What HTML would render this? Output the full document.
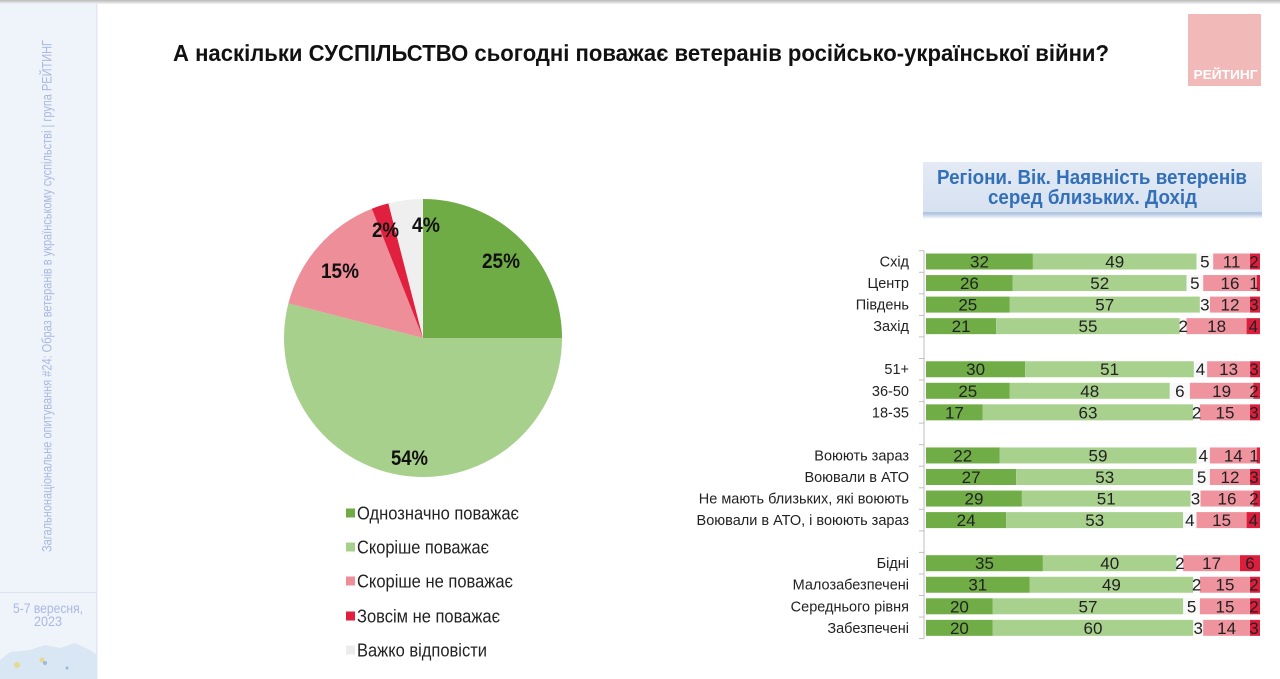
<!DOCTYPE html>
<html><head><meta charset="utf-8"><style>
html,body{margin:0;padding:0;background:#fff;}
svg{display:block;}
</style></head><body>
<svg width="1280" height="679" viewBox="0 0 1280 679" xmlns="http://www.w3.org/2000/svg" font-family="'Liberation Sans', Arial, sans-serif">
<defs>
<linearGradient id="topg" x1="0" y1="0" x2="0" y2="1"><stop offset="0" stop-color="#b9b9b9"/><stop offset="1" stop-color="#f4f4f4"/></linearGradient>
<linearGradient id="hdr" x1="0" y1="0" x2="0" y2="1"><stop offset="0" stop-color="#e3eaf5"/><stop offset="1" stop-color="#d6e1f0"/></linearGradient>
<linearGradient id="shd" x1="0" y1="0" x2="0" y2="1"><stop offset="0" stop-color="#a9bedc"/><stop offset="1" stop-color="#ffffff"/></linearGradient>
</defs>
<rect width="1280" height="679" fill="#fff"/>
<!-- sidebar -->
<rect x="0" y="0" width="97" height="679" fill="#eff3fa"/>
<rect x="96" y="0" width="1.5" height="679" fill="#e1e7f2"/>
<rect x="0" y="592" width="97" height="1" fill="#dde3ee"/>
<text transform="translate(51.5,296) rotate(-90)" text-anchor="middle" font-size="14" fill="#a9b9e0" textLength="512" lengthAdjust="spacingAndGlyphs">Загальнонаціональне опитування #24: Образ ветеранів в українському суспільстві | група РЕЙТИНГ</text>
<text x="48" y="613" text-anchor="middle" font-size="14" fill="#a9b9e0" textLength="70" lengthAdjust="spacingAndGlyphs">5-7 вересня,</text>
<text x="48" y="626" text-anchor="middle" font-size="14" fill="#a9b9e0" textLength="28" lengthAdjust="spacingAndGlyphs">2023</text>
<path d="M0,679 L0,660 L10,652 L30,650 L45,645 L60,648 L75,643 L90,650 L97,655 L97,679 Z" fill="#d9e6f3"/>
<circle cx="17" cy="665" r="3" fill="#e6d98f"/>
<circle cx="42" cy="660" r="2.5" fill="#e6d98f"/>
<circle cx="45" cy="663" r="2" fill="#9bb8dc"/>
<circle cx="67" cy="668" r="1.5" fill="#9bb8dc"/>
<!-- top strip -->
<rect x="0" y="0" width="1280" height="4" fill="url(#topg)"/>
<!-- title -->
<text x="173" y="61" font-size="23" font-weight="bold" fill="#111" textLength="936" lengthAdjust="spacingAndGlyphs">А наскільки СУСПІЛЬСТВО сьогодні поважає ветеранів російсько-української війни?</text>
<!-- logo -->
<rect x="1188" y="14" width="73" height="72" fill="#f2b9b9"/>
<text x="1225.5" y="79" text-anchor="middle" font-size="13" font-weight="bold" fill="#fff" textLength="64" lengthAdjust="spacingAndGlyphs">РЕЙТИНГ</text>
<!-- pie -->
<path d="M423,338 L423,199 A139,139 0 0 1 562,338 Z" fill="#6fac46"/>
<path d="M423,338 L562,338 A139,139 0 1 1 288.37,303.43 Z" fill="#a8d08d"/>
<path d="M423,338 L288.37,303.43 A139,139 0 0 1 371.83,208.76 Z" fill="#ee8e99"/>
<path d="M423,338 L371.83,208.76 A139,139 0 0 1 388.43,203.37 Z" fill="#e1203f"/>
<path d="M423,338 L388.43,203.37 A139,139 0 0 1 423,199 Z" fill="#efefef"/>
<g font-size="21" font-weight="bold" fill="#111" text-anchor="middle">
<text x="501" y="268" textLength="38" lengthAdjust="spacingAndGlyphs">25%</text>
<text x="409.5" y="465" textLength="37" lengthAdjust="spacingAndGlyphs">54%</text>
<text x="340" y="278" textLength="38" lengthAdjust="spacingAndGlyphs">15%</text>
<text x="385.5" y="237" textLength="27" lengthAdjust="spacingAndGlyphs">2%</text>
<text x="426" y="232" textLength="28" lengthAdjust="spacingAndGlyphs">4%</text>
</g>
<!-- legend -->
<rect x="346" y="508.5" width="9" height="9" fill="#6fac46"/>
<rect x="346" y="542.5" width="9" height="9" fill="#a8d08d"/>
<rect x="346" y="576.5" width="9" height="9" fill="#ee8e99"/>
<rect x="346" y="611.5" width="9" height="9" fill="#e1203f"/>
<rect x="346" y="645.5" width="9" height="9" fill="#ececec"/>
<g font-size="18" fill="#222">
<text x="357" y="519.5" textLength="162" lengthAdjust="spacingAndGlyphs">Однозначно поважає</text>
<text x="357" y="553.5" textLength="132" lengthAdjust="spacingAndGlyphs">Скоріше поважає</text>
<text x="357" y="587.5" textLength="156" lengthAdjust="spacingAndGlyphs">Скоріше не поважає</text>
<text x="357" y="622.5" textLength="143" lengthAdjust="spacingAndGlyphs">Зовсім не поважає</text>
<text x="357" y="656.5" textLength="130" lengthAdjust="spacingAndGlyphs">Важко відповісти</text>
</g>
<!-- header box -->
<rect x="923" y="213" width="339" height="6" fill="url(#shd)"/>
<rect x="923" y="162" width="339" height="52" fill="url(#hdr)"/>
<rect x="923" y="212" width="339" height="2" fill="#b3c5df"/>
<text x="1092" y="184" text-anchor="middle" font-size="20" font-weight="bold" fill="#3470b8" textLength="310" lengthAdjust="spacingAndGlyphs">Регіони. Вік. Наявність ветеренів</text>
<text x="1092.5" y="204" text-anchor="middle" font-size="20" font-weight="bold" fill="#3470b8" textLength="209" lengthAdjust="spacingAndGlyphs">серед близьких. Дохід</text>
<!-- axis -->
<g stroke="#bfbfbf" stroke-width="1">
<line x1="924" y1="250.7" x2="924" y2="638.6"/>
<line x1="919" y1="250.7" x2="924" y2="250.7"/><line x1="919" y1="272.3" x2="924" y2="272.3"/><line x1="919" y1="293.8" x2="924" y2="293.8"/><line x1="919" y1="315.4" x2="924" y2="315.4"/><line x1="919" y1="336.9" x2="924" y2="336.9"/><line x1="919" y1="358.5" x2="924" y2="358.5"/><line x1="919" y1="380.0" x2="924" y2="380.0"/><line x1="919" y1="401.6" x2="924" y2="401.6"/><line x1="919" y1="423.1" x2="924" y2="423.1"/><line x1="919" y1="444.7" x2="924" y2="444.7"/><line x1="919" y1="466.2" x2="924" y2="466.2"/><line x1="919" y1="487.8" x2="924" y2="487.8"/><line x1="919" y1="509.3" x2="924" y2="509.3"/><line x1="919" y1="530.9" x2="924" y2="530.9"/><line x1="919" y1="552.4" x2="924" y2="552.4"/><line x1="919" y1="574.0" x2="924" y2="574.0"/><line x1="919" y1="595.5" x2="924" y2="595.5"/><line x1="919" y1="617.1" x2="924" y2="617.1"/><line x1="919" y1="638.6" x2="924" y2="638.6"/>
</g>
<!-- row labels -->
<g font-size="14.5" fill="#222" text-anchor="end">
<text x="909" y="266.5">Схід</text>
<text x="909" y="288">Центр</text>
<text x="909" y="309.6">Південь</text>
<text x="909" y="331.1">Захід</text>
<text x="909" y="374.2">51+</text>
<text x="909" y="395.8">36-50</text>
<text x="909" y="417.3">18-35</text>
<text x="909" y="460.4">Воюють зараз</text>
<text x="909" y="482">Воювали в АТО</text>
<text x="909" y="503.5">Не мають близьких, які воюють</text>
<text x="909" y="525.1">Воювали в АТО, і воюють зараз</text>
<text x="909" y="568.2">Бідні</text>
<text x="909" y="589.7">Малозабезпечені</text>
<text x="909" y="611.3">Середнього рівня</text>
<text x="909" y="632.8">Забезпечені</text>
</g>
<!-- bars -->
<g>
<!-- Схід y=253.5 -->
<rect x="926" y="253.5" width="106.9" height="16" fill="#70ad47"/><rect x="1032.9" y="253.5" width="163.6" height="16" fill="#a9d18e"/><rect x="1196.5" y="253.5" width="16.7" height="16" fill="#f8f8f8"/><rect x="1213.2" y="253.5" width="36.8" height="16" fill="#ef949f"/><rect x="1250" y="253.5" width="10" height="16" fill="#dc1e3c"/>
<!-- Центр y=275.05 -->
<rect x="926" y="275.05" width="86.8" height="16" fill="#70ad47"/><rect x="1012.8" y="275.05" width="173.7" height="16" fill="#a9d18e"/><rect x="1186.5" y="275.05" width="16.7" height="16" fill="#f8f8f8"/><rect x="1203.2" y="275.05" width="53.5" height="16" fill="#ef949f"/><rect x="1256.7" y="275.05" width="3.3" height="16" fill="#dc1e3c"/>
<!-- Південь y=296.6 -->
<rect x="926" y="296.6" width="83.5" height="16" fill="#70ad47"/><rect x="1009.5" y="296.6" width="190.4" height="16" fill="#a9d18e"/><rect x="1199.9" y="296.6" width="10" height="16" fill="#f8f8f8"/><rect x="1209.9" y="296.6" width="40.1" height="16" fill="#ef949f"/><rect x="1250" y="296.6" width="10" height="16" fill="#dc1e3c"/>
<!-- Захід y=318.15 -->
<rect x="926" y="318.15" width="70.1" height="16" fill="#70ad47"/><rect x="996.1" y="318.15" width="183.7" height="16" fill="#a9d18e"/><rect x="1179.8" y="318.15" width="6.7" height="16" fill="#f8f8f8"/><rect x="1186.5" y="318.15" width="60.1" height="16" fill="#ef949f"/><rect x="1246.6" y="318.15" width="13.4" height="16" fill="#dc1e3c"/>
<!-- 51+ y=361.25 -->
<rect x="926" y="361.25" width="99.2" height="16" fill="#70ad47"/><rect x="1025.2" y="361.25" width="168.7" height="16" fill="#a9d18e"/><rect x="1193.9" y="361.25" width="13.2" height="16" fill="#f8f8f8"/><rect x="1207.1" y="361.25" width="43" height="16" fill="#ef949f"/><rect x="1250.1" y="361.25" width="9.9" height="16" fill="#dc1e3c"/>
<!-- 36-50 y=382.8 -->
<rect x="926" y="382.8" width="83.5" height="16" fill="#70ad47"/><rect x="1009.5" y="382.8" width="160.3" height="16" fill="#a9d18e"/><rect x="1169.8" y="382.8" width="20.1" height="16" fill="#f8f8f8"/><rect x="1189.9" y="382.8" width="63.4" height="16" fill="#ef949f"/><rect x="1253.3" y="382.8" width="6.7" height="16" fill="#dc1e3c"/>
<!-- 18-35 y=404.35 -->
<rect x="926" y="404.35" width="56.8" height="16" fill="#70ad47"/><rect x="982.8" y="404.35" width="210.4" height="16" fill="#a9d18e"/><rect x="1193.2" y="404.35" width="6.7" height="16" fill="#f8f8f8"/><rect x="1199.9" y="404.35" width="50.1" height="16" fill="#ef949f"/><rect x="1250" y="404.35" width="10" height="16" fill="#dc1e3c"/>
<!-- Воюють зараз y=447.45 -->
<rect x="926" y="447.45" width="73.5" height="16" fill="#70ad47"/><rect x="999.5" y="447.45" width="197" height="16" fill="#a9d18e"/><rect x="1196.5" y="447.45" width="13.4" height="16" fill="#f8f8f8"/><rect x="1209.9" y="447.45" width="46.8" height="16" fill="#ef949f"/><rect x="1256.7" y="447.45" width="3.3" height="16" fill="#dc1e3c"/>
<!-- Воювали в АТО y=469 -->
<rect x="926" y="469" width="90.2" height="16" fill="#70ad47"/><rect x="1016.2" y="469" width="177" height="16" fill="#a9d18e"/><rect x="1193.2" y="469" width="16.7" height="16" fill="#f8f8f8"/><rect x="1209.9" y="469" width="40.1" height="16" fill="#ef949f"/><rect x="1250" y="469" width="10" height="16" fill="#dc1e3c"/>
<!-- Не мають y=490.55 -->
<rect x="926" y="490.55" width="95.9" height="16" fill="#70ad47"/><rect x="1021.9" y="490.55" width="168.7" height="16" fill="#a9d18e"/><rect x="1190.6" y="490.55" width="9.9" height="16" fill="#f8f8f8"/><rect x="1200.5" y="490.55" width="52.9" height="16" fill="#ef949f"/><rect x="1253.4" y="490.55" width="6.6" height="16" fill="#dc1e3c"/>
<!-- АТО і y=512.1 -->
<rect x="926" y="512.1" width="80.2" height="16" fill="#70ad47"/><rect x="1006.2" y="512.1" width="177" height="16" fill="#a9d18e"/><rect x="1183.2" y="512.1" width="13.3" height="16" fill="#f8f8f8"/><rect x="1196.5" y="512.1" width="50.1" height="16" fill="#ef949f"/><rect x="1246.6" y="512.1" width="13.4" height="16" fill="#dc1e3c"/>
<!-- Бідні y=555.2 -->
<rect x="926" y="555.2" width="116.9" height="16" fill="#70ad47"/><rect x="1042.9" y="555.2" width="133.6" height="16" fill="#a9d18e"/><rect x="1176.5" y="555.2" width="6.7" height="16" fill="#f8f8f8"/><rect x="1183.2" y="555.2" width="56.8" height="16" fill="#ef949f"/><rect x="1240" y="555.2" width="20" height="16" fill="#dc1e3c"/>
<!-- Малозабезпечені y=576.75 -->
<rect x="926" y="576.75" width="103.5" height="16" fill="#70ad47"/><rect x="1029.5" y="576.75" width="163.7" height="16" fill="#a9d18e"/><rect x="1193.2" y="576.75" width="6.7" height="16" fill="#f8f8f8"/><rect x="1199.9" y="576.75" width="50.1" height="16" fill="#ef949f"/><rect x="1250" y="576.75" width="10" height="16" fill="#dc1e3c"/>
<!-- Середнього y=598.3 -->
<rect x="926" y="598.3" width="66.8" height="16" fill="#70ad47"/><rect x="992.8" y="598.3" width="190.4" height="16" fill="#a9d18e"/><rect x="1183.2" y="598.3" width="16.7" height="16" fill="#f8f8f8"/><rect x="1199.9" y="598.3" width="50.1" height="16" fill="#ef949f"/><rect x="1250" y="598.3" width="10" height="16" fill="#dc1e3c"/>
<!-- Забезпечені y=619.85 -->
<rect x="926" y="619.85" width="66.8" height="16" fill="#70ad47"/><rect x="992.8" y="619.85" width="200.4" height="16" fill="#a9d18e"/><rect x="1193.2" y="619.85" width="10" height="16" fill="#f8f8f8"/><rect x="1203.2" y="619.85" width="46.8" height="16" fill="#ef949f"/><rect x="1250" y="619.85" width="10" height="16" fill="#dc1e3c"/>
</g>
<!-- bar values -->
<g font-size="17" fill="#222" text-anchor="middle">
<text x="979.5" y="267.5">32</text><text x="1114.7" y="267.5">49</text><text x="1204.9" y="267.5">5</text><text x="1231.6" y="267.5">11</text><text x="1254" y="267.5">2</text>
<text x="969.4" y="289">26</text><text x="1099.7" y="289">52</text><text x="1194.9" y="289">5</text><text x="1230" y="289">16</text><text x="1254" y="289">1</text>
<text x="967.8" y="310.6">25</text><text x="1104.7" y="310.6">57</text><text x="1204.9" y="310.6">3</text><text x="1230" y="310.6">12</text><text x="1254" y="310.6">3</text>
<text x="961.1" y="332.1">21</text><text x="1088" y="332.1">55</text><text x="1183.2" y="332.1">2</text><text x="1216.6" y="332.1">18</text><text x="1253.3" y="332.1">4</text>
<text x="975.6" y="375.2">30</text><text x="1109.6" y="375.2">51</text><text x="1200.5" y="375.2">4</text><text x="1228.6" y="375.2">13</text><text x="1254" y="375.2">3</text>
<text x="967.8" y="396.8">25</text><text x="1089.7" y="396.8">48</text><text x="1179.9" y="396.8">6</text><text x="1221.6" y="396.8">19</text><text x="1254" y="396.8">2</text>
<text x="954.4" y="418.3">17</text><text x="1088" y="418.3">63</text><text x="1196.6" y="418.3">2</text><text x="1225" y="418.3">15</text><text x="1254" y="418.3">3</text>
<text x="962.7" y="461.4">22</text><text x="1098" y="461.4">59</text><text x="1203.2" y="461.4">4</text><text x="1233.3" y="461.4">14</text><text x="1254" y="461.4">1</text>
<text x="971.1" y="483">27</text><text x="1104.7" y="483">53</text><text x="1201.6" y="483">5</text><text x="1230" y="483">12</text><text x="1254" y="483">3</text>
<text x="974" y="504.5">29</text><text x="1106.2" y="504.5">51</text><text x="1195.5" y="504.5">3</text><text x="1227" y="504.5">16</text><text x="1254" y="504.5">2</text>
<text x="966.1" y="526.1">24</text><text x="1094.7" y="526.1">53</text><text x="1189.9" y="526.1">4</text><text x="1221.6" y="526.1">15</text><text x="1253.3" y="526.1">4</text>
<text x="984.5" y="569.2">35</text><text x="1109.7" y="569.2">40</text><text x="1179.9" y="569.2">2</text><text x="1211.6" y="569.2">17</text><text x="1250" y="569.2">6</text>
<text x="977.8" y="590.7">31</text><text x="1111.4" y="590.7">49</text><text x="1196.6" y="590.7">2</text><text x="1225" y="590.7">15</text><text x="1254" y="590.7">2</text>
<text x="959.4" y="612.3">20</text><text x="1088" y="612.3">57</text><text x="1191.6" y="612.3">5</text><text x="1225" y="612.3">15</text><text x="1254" y="612.3">2</text>
<text x="959.4" y="633.8">20</text><text x="1093" y="633.8">60</text><text x="1198.2" y="633.8">3</text><text x="1226.6" y="633.8">14</text><text x="1254" y="633.8">3</text>
</g>
</svg>
</body></html>
